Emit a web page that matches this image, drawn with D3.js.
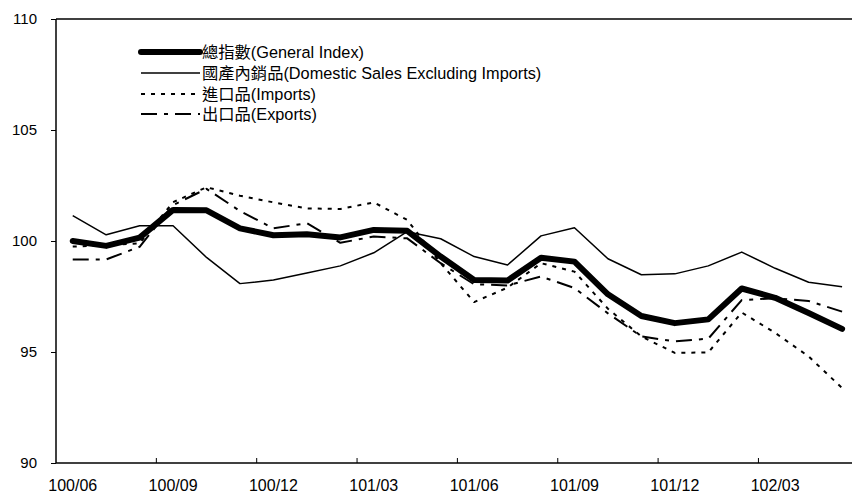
<!DOCTYPE html>
<html>
<head>
<meta charset="utf-8">
<script src="https://cdn.jsdelivr.net/npm/d3@7"></script>
<style>
  body { margin: 0; background: #fff; }
  svg { display: block; font-family: "Liberation Sans", Arial, "Noto Sans CJK TC", sans-serif; }
</style>
</head>
<body>
<div id="chart"></div>
<script>
var months = ["100/06","100/07","100/08","100/09","100/10","100/11","100/12",
  "101/01","101/02","101/03","101/04","101/05","101/06","101/07","101/08","101/09",
  "101/10","101/11","101/12","102/01","102/02","102/03","102/04","102/05"];

var general  = [100.0, 99.78, 100.15, 101.4, 101.38, 100.57, 100.26, 100.3, 100.16, 100.5, 100.46, 99.3,
  98.24, 98.22, 99.25, 99.07, 97.6, 96.62, 96.3, 96.47, 97.86, 97.44, 96.76, 96.04];
var domestic = [101.14, 100.28, 100.69, 100.69, 99.26, 98.08, 98.24, 98.56, 98.88, 99.47, 100.42, 100.1,
  99.3, 98.92, 100.23, 100.6, 99.2, 98.48, 98.52, 98.88, 99.5, 98.77, 98.14, 97.94];
var imports  = [99.75, 99.8, 99.9, 101.75, 102.42, 102.04, 101.74, 101.47, 101.44, 101.74, 100.95, 99.0,
  97.25, 97.9, 99.0, 98.62, 96.95, 95.7, 94.96, 94.98, 96.78, 95.86, 94.8, 93.38];
var exports_ = [99.17, 99.17, 99.74, 101.62, 102.35, 101.35, 100.57, 100.8, 99.92, 100.2, 100.12, 99.0,
  98.05, 98.0, 98.4, 97.88, 96.74, 95.7, 95.48, 95.6, 97.34, 97.42, 97.3, 96.82];

var seriesNames = ["總指數(General Index)", "國產內銷品(Domestic Sales Excluding Imports)",
  "進口品(Imports)", "出口品(Exports)"];
var yTicks = [90, 95, 100, 105, 110];

var styles = [
  {width: 6, dash: null, cap: "round"},
  {width: 1.5, dash: null, cap: "butt"},
  {width: 2, dash: "4,6", cap: "butt"},
  {width: 2, dash: "16,7,4,7", cap: "butt"}
];
var seriesData = [general, domestic, imports, exports_];

var W = 852, H = 496;
var svg = d3.select("#chart").append("svg").attr("width", W).attr("height", H);

var plotLeft = 56, plotTop = 19, plotBottom = 463;
var x = d3.scaleBand().domain(months).range([plotLeft, plotLeft + 24 * 33.45]).padding(0);
var y = d3.scaleLinear().domain([90, 110]).range([plotBottom, plotTop]);
var cx = function(m) { return x(m) + x.bandwidth() / 2; };

// lines
var line = d3.line().x(function(d, i) { return cx(months[i]); }).y(function(d) { return y(d); });

seriesData.forEach(function(s, k) {
  svg.append("path")
    .datum(s)
    .attr("d", line)
    .attr("fill", "none")
    .attr("stroke", "#000")
    .attr("stroke-width", styles[k].width)
    .attr("stroke-linejoin", "round")
    .attr("stroke-linecap", styles[k].cap)
    .attr("stroke-dasharray", styles[k].dash);
});

// frame: left axis, top border, bottom axis
svg.append("line").attr("x1", plotLeft).attr("x2", plotLeft).attr("y1", plotTop).attr("y2", plotBottom)
  .attr("stroke", "#000").attr("stroke-width", 1.5);
svg.append("line").attr("x1", plotLeft).attr("x2", W).attr("y1", plotTop).attr("y2", plotTop)
  .attr("stroke", "#000").attr("stroke-width", 1.5);
svg.append("line").attr("x1", plotLeft).attr("x2", W).attr("y1", plotBottom).attr("y2", plotBottom)
  .attr("stroke", "#000").attr("stroke-width", 1.5);

// y axis
var yAxis = d3.axisLeft(y).tickValues(yTicks).tickSize(5).tickPadding(14);
var gy = svg.append("g").attr("transform", "translate(" + plotLeft + ",0)").call(yAxis);
gy.select(".domain").remove();
gy.selectAll("line").attr("stroke", "#000");
gy.selectAll("text").attr("font-size", 15).attr("fill", "#000")
  .attr("font-family", "'Liberation Sans', Arial, sans-serif");

// x axis labels every 3 months, centred in categories
var labelMonths = months.filter(function(m, i) { return i % 3 === 0; });
var xAxis = d3.axisBottom(x).tickValues(labelMonths).tickSize(0).tickPadding(17);
var gx = svg.append("g").attr("transform", "translate(0," + plotBottom + ")").call(xAxis);
gx.select(".domain").remove();
gx.selectAll("text").attr("font-size", 16).attr("fill", "#000")
  .attr("font-family", "'Liberation Sans', Arial, sans-serif");

// x tick marks at category boundaries every 3
var tickMonths = months.filter(function(m, i) { return i > 0 && i % 3 === 0; });
svg.append("g").selectAll("line").data(tickMonths).enter().append("line")
  .attr("x1", function(m) { return x(m); }).attr("x2", function(m) { return x(m); })
  .attr("y1", plotBottom).attr("y2", plotBottom - 5)
  .attr("stroke", "#000").attr("stroke-width", 1);

// legend
var legY = [52, 73, 94, 114];
var lg = svg.append("g");
seriesNames.forEach(function(name, k) {
  lg.append("line").attr("x1", 141).attr("x2", 200).attr("y1", legY[k]).attr("y2", legY[k])
    .attr("stroke", "#000")
    .attr("stroke-width", styles[k].width)
    .attr("stroke-linecap", styles[k].cap)
    .attr("stroke-dasharray", styles[k].dash);
  lg.append("text").attr("x", 202).attr("y", legY[k]).attr("dy", "0.36em")
    .attr("font-size", 16.3).attr("fill", "#000").text(name);
});
</script>
</body>
</html>
